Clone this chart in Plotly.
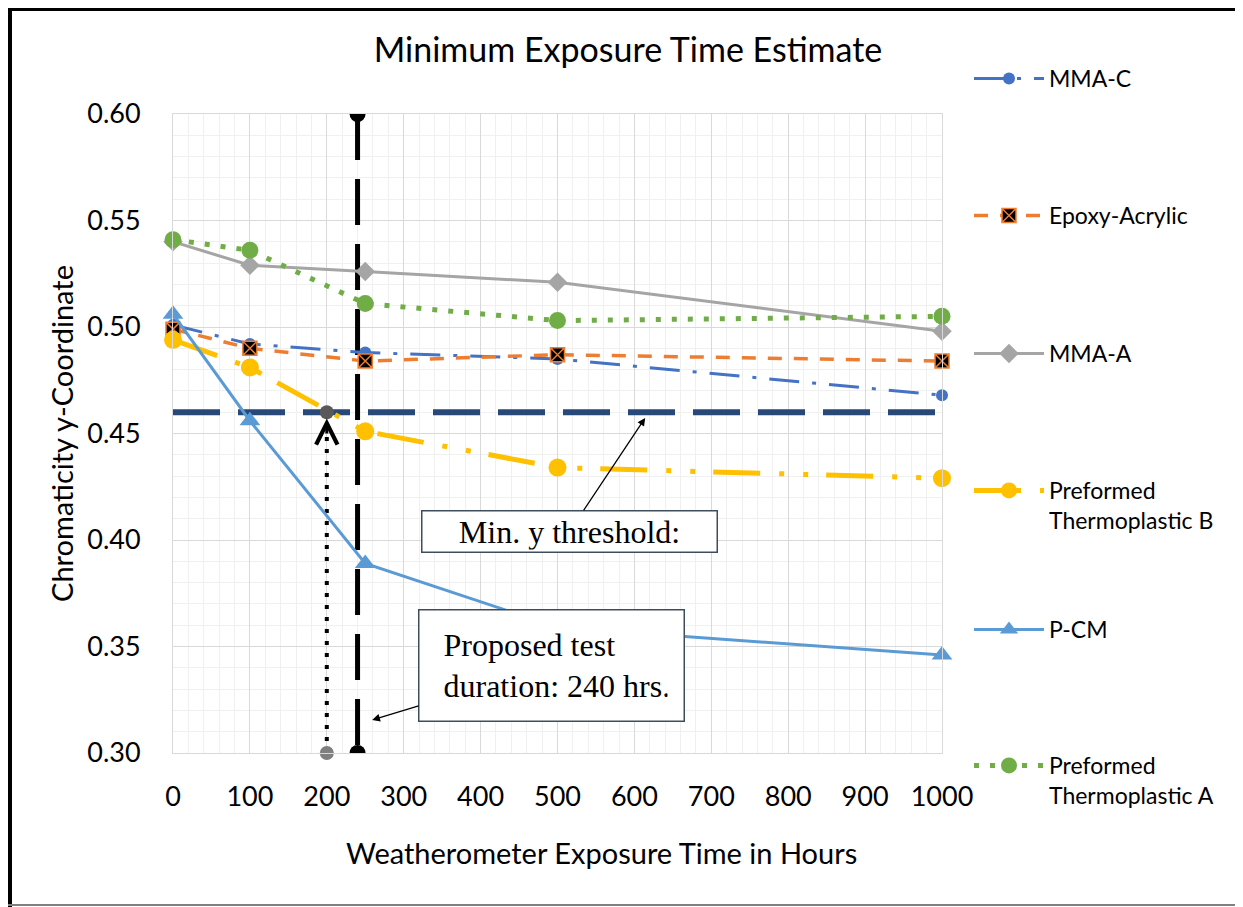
import plotly.graph_objects as go

hours = [0, 100, 250, 500, 1000]
mma_c = [0.501, 0.492, 0.488, 0.485, 0.468]
epoxy_acrylic = [0.499, 0.490, 0.484, 0.487, 0.484]
mma_a = [0.540, 0.529, 0.526, 0.521, 0.498]
pt_b = [0.494, 0.481, 0.451, 0.434, 0.429]
p_cm = [0.506, 0.456, 0.389, 0.359, 0.346]
pt_a = [0.541, 0.536, 0.511, 0.503, 0.505]

threshold_x = [0, 1000]
threshold_y = [0.46, 0.46]
duration_x = [240, 240]
duration_y = [0.60, 0.30]
crossing_x = [200, 200]
crossing_y = [0.30, 0.46]

FONT = "Lato"
OFF = 8                      # page body margin
FW, FH = 1243 - OFF, 907 - OFF
W, L, T, H = 769, 173, 114, 639   # plot area in screen pixels


def px(xs): return (xs - L) / W
def py(ys): return 1 - (ys - T) / H


fig = go.Figure()
legend_tops = []


def series(name, y, color, dash, width, symbol, size, top, mcolor=None, mline=None):
    lid = "legend" if not legend_tops else "legend%d" % (len(legend_tops) + 1)
    legend_tops.append((lid, top))
    fig.add_trace(go.Scatter(
        x=hours, y=y, name=name, mode="lines+markers",
        line=dict(color=color, width=width, dash=dash),
        marker=dict(symbol=symbol, size=size, color=mcolor or color,
                    line=mline or dict(width=0)),
        cliponaxis=False, legend=lid))


# reference lines (not in legend)
fig.add_trace(go.Scatter(x=threshold_x, y=threshold_y, mode="lines",
                         line=dict(color="#284878", width=6, dash="47px,18px"),
                         showlegend=False, hoverinfo="skip"))
fig.add_trace(go.Scatter(x=duration_x, y=duration_y, mode="lines+markers",
                         line=dict(color="black", width=5, dash="46px,19px"),
                         marker=dict(color="black", size=16),
                         showlegend=False, hoverinfo="skip"))
fig.add_trace(go.Scatter(x=crossing_x, y=crossing_y, mode="lines+markers",
                         line=dict(color="black", width=4, dash="4px,8px"),
                         marker=dict(color=["#7F7F7F", "#595959"], size=14),
                         showlegend=False, hoverinfo="skip", cliponaxis=False))

series("MMA-C", mma_c, "#4472C4", "30px,13px,4px,13px", 3, "circle", 12, 57)
series("Epoxy-Acrylic", epoxy_acrylic, "#ED7D31", "14px,12px", 3.5, "square-x", 14, 194,
       mcolor="black", mline=dict(color="#ED7D31", width=1.5))
series("MMA-A", mma_a, "#A5A5A5", "solid", 3, "diamond", 15, 332)
series("Preformed<br>Thermoplastic B", pt_b, "#FFC000",
       "47px,19px,5px,19px,5px,18px", 5, "circle", 18, 469)
series("P-CM", p_cm, "#5B9BD5", "solid", 3, "triangle-up", 18, 608)
series("Preformed<br>Thermoplastic A", pt_a, "#70AD47", "5px,11px", 5, "circle", 17, 744)

# chevron arrow on crossing line
fig.add_annotation(x=200, y=0.457, xref="x", yref="y", ax=0, ay=24, text=" ",
                   showarrow=True, arrowhead=5, arrowwidth=3, arrowsize=1.4,
                   arrowcolor="black")

box_font = dict(family="Liberation Serif", size=32, color="black")
fig.add_annotation(x=614, y=0.4573, xref="x", yref="y",
                   ax=516, ay=0.4042, axref="x", ayref="y",
                   text="Min. y threshold:", font=box_font,
                   showarrow=True, arrowhead=2, arrowsize=1.2, arrowwidth=1.3,
                   arrowcolor="black", bgcolor="white", bordercolor="#3E4C5C",
                   borderwidth=1.5, borderpad=2, width=290, align="center")
fig.add_annotation(x=259, y=0.3155, xref="x", yref="y",
                   ax=492, ay=0.3411, axref="x", ayref="y",
                   text="&nbsp;Proposed test<br>&nbsp;duration: 240 hrs.", font=box_font,
                   showarrow=True, arrowhead=2, arrowsize=1.2, arrowwidth=1.3,
                   arrowcolor="black", bgcolor="white", bordercolor="#3E4C5C",
                   borderwidth=1.5, borderpad=16, width=232, align="left")

# x-axis title (offset right of plot centre as in the original)
fig.add_annotation(x=px(601), y=py(852), xref="paper", yref="paper",
                   text="Weatherometer Exposure Time in Hours", showarrow=False,
                   font=dict(size=29, family=FONT, color="black"),
                   xanchor="center", yanchor="middle")

# figure border lines
fig.add_shape(type="line", xref="paper", yref="paper", x0=px(10), x1=px(10),
              y0=py(9), y1=py(907), line=dict(color="black", width=4))
fig.add_shape(type="line", xref="paper", yref="paper", x0=px(8), x1=px(1243),
              y0=py(9), y1=py(9), line=dict(color="black", width=4))
fig.add_shape(type="line", xref="paper", yref="paper", x0=px(8), x1=px(1243),
              y0=py(905), y1=py(905), line=dict(color="#808080", width=2))

legends = {}
for lid, top in legend_tops:
    legends[lid] = dict(x=px(969), xanchor="left", y=py(top), yanchor="top",
                        font=dict(size=23, family=FONT), itemwidth=70,
                        valign="top", bgcolor="rgba(0,0,0,0)")

fig.update_layout(
    width=FW, height=FH,
    margin=dict(l=L - OFF, r=FW - (L - OFF) - W, t=T - OFF, b=FH - (T - OFF) - H,
                autoexpand=False),
    paper_bgcolor="white", plot_bgcolor="white",
    font=dict(family=FONT, color="#000000"),
    title=dict(text="Minimum Exposure Time Estimate", x=(628 - OFF) / FW,
               xanchor="center", y=1 - 42 / FH, yanchor="middle",
               font=dict(size=34, family=FONT)),
    xaxis=dict(range=[0, 1000], dtick=100, tick0=0, showgrid=True, automargin=False,
               gridcolor="#D9D9D9", gridwidth=1, zeroline=False,
               showline=True, mirror=True, linecolor="#D9D9D9", linewidth=1,
               minor=dict(dtick=20, showgrid=True, gridcolor="#F0F0F0", gridwidth=1),
               ticks="", ticklabelstandoff=20, tickfont=dict(size=27)),
    yaxis=dict(range=[0.30, 0.60], dtick=0.05, tick0=0.30, tickformat=".2f",
               automargin=False,
               showgrid=True, gridcolor="#D9D9D9", gridwidth=1, zeroline=False,
               showline=True, mirror=True, linecolor="#D9D9D9", linewidth=1,
               minor=dict(dtick=0.01, showgrid=True, gridcolor="#F0F0F0", gridwidth=1),
               ticks="", ticklabelstandoff=26, tickfont=dict(size=27),
               title=dict(text="Chromaticity y-Coordinate", font=dict(size=29),
                          standoff=5)),
    showlegend=True,
    **legends,
)

fig.write_html("out.html")
